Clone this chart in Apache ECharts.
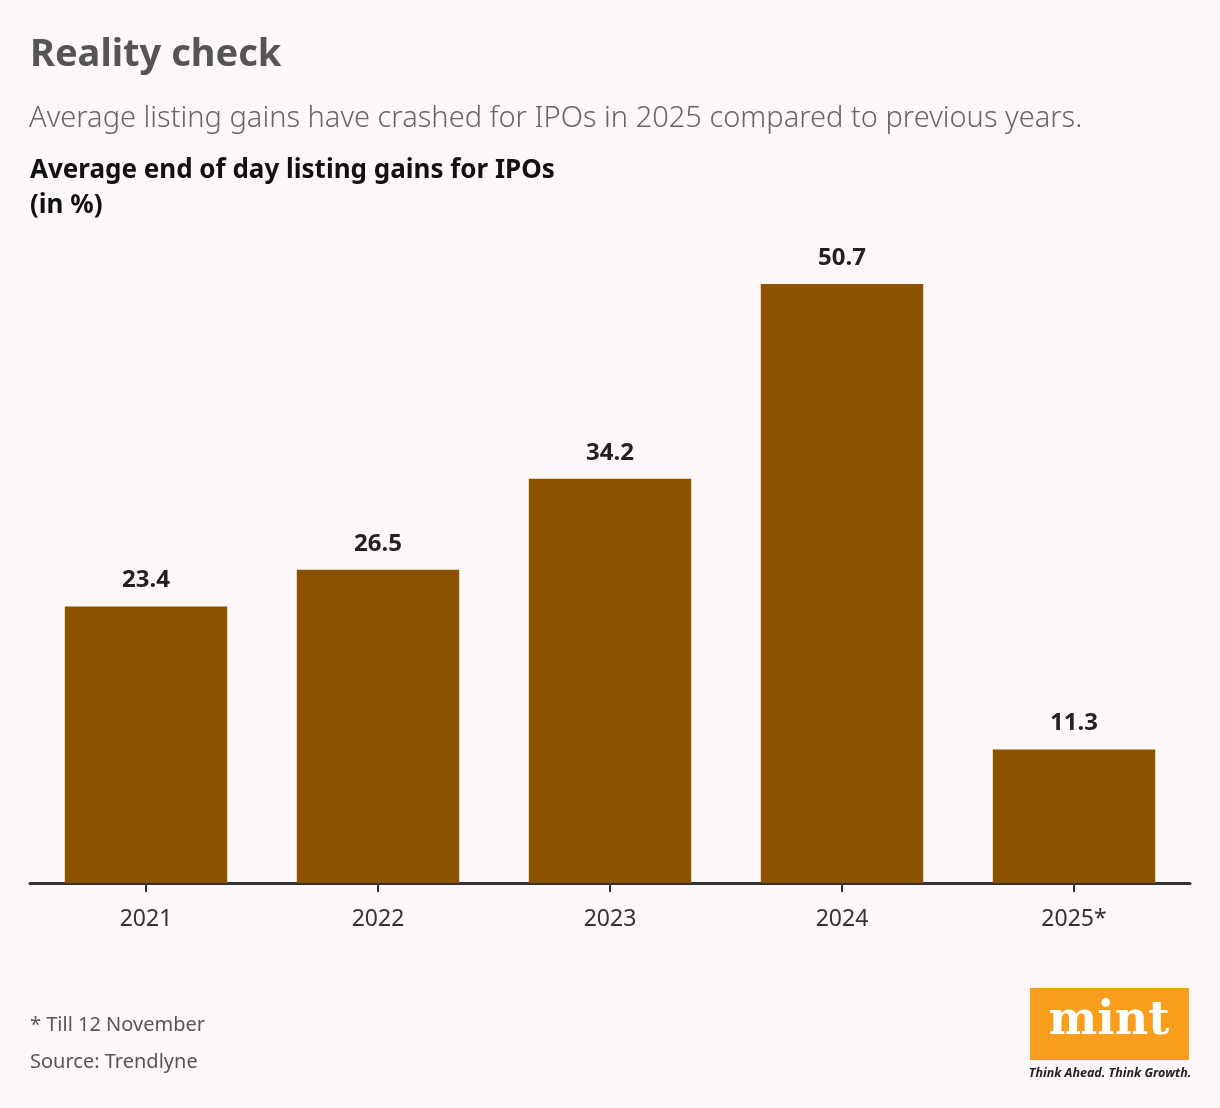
<!DOCTYPE html>
<html>
<head>
<meta charset="utf-8">
<script src="https://cdn.jsdelivr.net/npm/echarts@6/dist/echarts.min.js"></script>
<style>
html,body{margin:0;padding:0;background:#fdf8f7;}
#c{width:1220px;height:1108px;}
</style>
</head>
<body>
<div id="c"></div>
<script>
const categories = ['2021', '2022', '2023', '2024', '2025*'];
const gains = [23.4, 26.5, 34.2, 50.7, 11.3];

const chart = echarts.init(document.getElementById('c'));
const F = '"Noto Sans", "Open Sans", sans-serif';
chart.setOption({
  backgroundColor: '#fdf8f7',
  animation: false,
  title: [
    { text: 'Reality check', left: 30, top: 36, padding: 0, textStyle: { fontFamily: F, fontSize: 38, fontWeight: 'bold', color: '#555555' } },
    { text: 'Average listing gains have crashed for IPOs in 2025 compared to previous years.', left: 29, top: 104, padding: 0, textStyle: { fontFamily: F, fontSize: 29, fontWeight: 300, color: '#666666' } },
    { text: 'Average end of day listing gains for IPOs\n(in %)', left: 30, top: 153, padding: 0, textStyle: { fontFamily: F, fontSize: 26, fontWeight: 'bold', color: '#111111', lineHeight: 35 } },
    { text: '* Till 12 November\n\nSource: Trendlyne', left: 30, top: 1016, padding: 0, textStyle: { fontFamily: F, fontSize: 20, fontWeight: 'normal', color: '#555555', lineHeight: 18.5 } }
  ],
  grid: { left: 30, right: 30, top: 174, bottom: 1108 - 883, containLabel: false },
  xAxis: {
    type: 'category',
    data: categories,
    axisLine: { lineStyle: { color: '#333333', width: 3 } },
    axisTick: { show: true, alignWithLabel: true, length: 9, lineStyle: { color: '#333333', width: 2 } },
    axisLabel: { fontFamily: F, fontSize: 23, color: '#333333', margin: 25 }
  },
  yAxis: {
    type: 'value', min: 0, max: 60,
    show: false,
    splitLine: { show: false }
  },
  series: [{
    type: 'bar',
    data: gains,
    barWidth: '70%',
    itemStyle: { color: '#8b5200' },
    label: {
      show: true, position: 'top', distance: 14,
      fontFamily: F, fontSize: 24, fontWeight: 'bold', color: '#222222',
      formatter: p => p.value.toFixed(1)
    }
  }],
  graphic: [
    { type: 'rect', shape: { x: 1030, y: 988, width: 159, height: 72 }, style: { fill: '#f99d1c' } },
    { type: 'text', x: 1109, y: 1022, style: { text: 'mint', fill: '#ffffff', font: 'bold 46px "DejaVu Serif", serif', textAlign: 'center', textVerticalAlign: 'middle' } },
    { type: 'text', x: 1110, y: 1073, style: { text: 'Think Ahead. Think Growth.', fill: '#222222', font: 'italic bold 12.5px "Noto Sans", sans-serif', textAlign: 'center', textVerticalAlign: 'middle' } }
  ]
});
</script>
</body>
</html>
